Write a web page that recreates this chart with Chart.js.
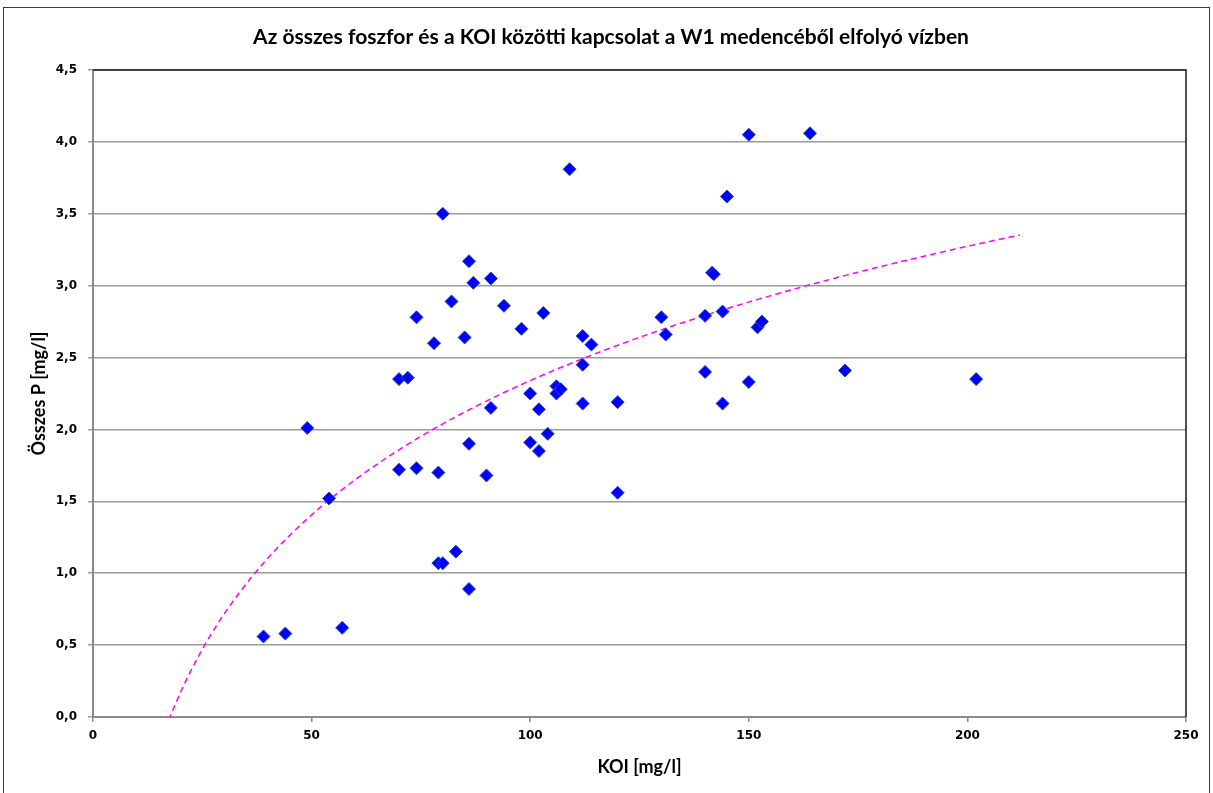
<!DOCTYPE html>
<html>
<head>
<meta charset="utf-8">
<script src="https://cdn.jsdelivr.net/npm/chart.js@4.4.1/dist/chart.umd.min.js"></script>
<style>
  html, body { margin: 0; padding: 0; background: #ffffff; }
  #wrap { width: 1213px; height: 793px; position: relative; }
</style>
</head>
<body>
<div id="wrap"><canvas id="chart" width="1213" height="793"></canvas></div>
<script>
// KOI (mg/l) and total phosphorus (mg/l) for each sample of the W1 basin outflow
const koi = [
  39, 44, 57, 49, 54, 70, 72, 70, 74, 74,
  78, 80, 82, 79, 79, 80, 83, 85, 86, 87,
  86, 86, 90, 91, 91, 94, 98, 100, 100, 102,
  102, 103, 104, 106, 106, 107, 109, 112, 112, 112,
  114, 120, 120, 130, 131, 140, 140, 141.6, 142, 144,
  144, 145, 150, 150, 152, 153, 164, 172, 202
];
const osszesP = [
  0.56, 0.58, 0.62, 2.01, 1.52, 2.35, 2.36, 1.72, 1.73, 2.78,
  2.60, 3.50, 2.89, 1.70, 1.07, 1.07, 1.15, 2.64, 3.17, 3.02,
  1.90, 0.89, 1.68, 3.05, 2.15, 2.86, 2.70, 2.25, 1.91, 2.14,
  1.85, 2.81, 1.97, 2.30, 2.25, 2.28, 3.81, 2.65, 2.45, 2.18,
  2.59, 2.19, 1.56, 2.78, 2.66, 2.79, 2.40, 3.09, 3.08, 2.82,
  2.18, 3.62, 4.05, 2.33, 2.71, 2.75, 4.06, 2.41, 2.35
];

const xTickLabels = ['0', '50', '100', '150', '200', '250'];
const yTickLabels = ['0,0', '0,5', '1,0', '1,5', '2,0', '2,5', '3,0', '3,5', '4,0', '4,5'];

const chartTitle = 'Az összes foszfor és a KOI közötti kapcsolat a W1 medencéből elfolyó vízben';
const xTitle = 'KOI [mg/l]';
const yTitle = 'Összes P [mg/l]';

// logarithmic trend line range (KOI)
const trendFrom = 15;
const trendTo = 212;

// least-squares fit of P = a*ln(KOI) + b
function logFit(xs, ys) {
  const n = xs.length;
  let sl = 0, sy = 0, sll = 0, sly = 0;
  for (let i = 0; i < n; i++) {
    const l = Math.log(xs[i]);
    sl += l; sy += ys[i]; sll += l * l; sly += l * ys[i];
  }
  const a = (n * sly - sl * sy) / (n * sll - sl * sl);
  const b = (sy - a * sl) / n;
  return { a, b };
}
const fit = logFit(koi, osszesP);
const trendPoints = [];
for (let i = 0; i <= 200; i++) {
  const x = trendFrom + (trendTo - trendFrom) * i / 200;
  trendPoints.push({ x, y: fit.a * Math.log(x) + fit.b });
}

const points = koi.map((x, i) => ({ x, y: osszesP[i] }));

const TICK_FONT = { family: 'DejaVu Sans', size: 12, weight: 'bold' };
const TITLE_FONT = 'Lato';

const framePlugin = {
  id: 'frame',
  beforeDraw(chart) {
    const ctx = chart.ctx;
    ctx.save();
    ctx.fillStyle = '#ffffff';
    ctx.fillRect(0, 0, chart.width, chart.height);
    ctx.strokeStyle = '#3a3a3a';
    ctx.lineWidth = 1;
    ctx.strokeRect(3.5, 7.5, 1206, 820);
    ctx.fillStyle = '#000000';
    ctx.font = 'bold 21px ' + TITLE_FONT;
    ctx.textAlign = 'center';
    ctx.textBaseline = 'middle';
    ctx.fillText(chartTitle, 611, 37);
    ctx.restore();
  },
  beforeDatasetsDraw(chart) {
    const { ctx, chartArea: a } = chart;
    ctx.save();
    ctx.strokeStyle = '#1a1a1a';
    ctx.lineWidth = 1.5;
    ctx.beginPath();
    ctx.moveTo(a.left, a.top);
    ctx.lineTo(a.right, a.top);
    ctx.lineTo(a.right, a.bottom);
    ctx.stroke();
    ctx.restore();
  }
};

new Chart(document.getElementById('chart'), {
  type: 'scatter',
  data: {
    datasets: [
      {
        label: 'Összes P',
        data: points,
        pointStyle: 'rectRot',
        pointRadius: 6.5,
        pointHoverRadius: 6.5,
        backgroundColor: '#0000ff',
        borderColor: '#2a4bb0',
        borderWidth: 1,
        order: 1
      },
      {
        type: 'line',
        label: 'Log. trend',
        data: trendPoints,
        borderColor: '#ff00ff',
        borderWidth: 1.5,
        borderDash: [6, 4],
        pointRadius: 0,
        fill: false,
        tension: 0,
        order: 2
      }
    ]
  },
  options: {
    responsive: false,
    animation: false,
    devicePixelRatio: 1,
    layout: { padding: { left: 0, top: 70, right: 27, bottom: 0 } },
    plugins: {
      legend: { display: false },
      title: { display: false },
      tooltip: { enabled: false }
    },
    scales: {
      x: {
        type: 'linear',
        min: 0,
        max: 250,
        afterFit(scale) { scale.height = 76; },
        afterBuildTicks(scale) {
          scale.ticks = xTickLabels.map((t, i) => ({ value: i * 50 }));
        },
        ticks: {
          color: '#000000',
          font: TICK_FONT,
          padding: 7,
          maxRotation: 0,
          callback: (v, i) => xTickLabels[i]
        },
        grid: { drawOnChartArea: false, drawTicks: true, tickLength: 5, color: '#8a8a8a', lineWidth: 1.5 },
        border: { display: true, color: '#8a8a8a', width: 2 },
        title: {
          display: true,
          text: xTitle,
          color: '#000000',
          font: { family: TITLE_FONT, size: 18, weight: 'bold' },
          padding: { top: 0, bottom: 15 }
        }
      },
      y: {
        type: 'linear',
        min: 0,
        max: 4.5,
        afterFit(scale) { scale.width = 93; },
        afterBuildTicks(scale) {
          scale.ticks = yTickLabels.map((t, i) => ({ value: i * 0.5 }));
        },
        ticks: {
          color: '#000000',
          font: TICK_FONT,
          padding: 11,
          callback: (v, i) => yTickLabels[i]
        },
        grid: { drawOnChartArea: true, drawTicks: true, tickLength: 5, color: '#9b9b9b', lineWidth: 1.5 },
        border: { display: true, color: '#8a8a8a', width: 2 },
        title: {
          display: true,
          text: yTitle,
          color: '#000000',
          font: { family: TITLE_FONT, size: 18, weight: 'bold' },
          padding: { top: 28, bottom: 0 }
        }
      }
    }
  },
  plugins: [framePlugin]
});
</script>
</body>
</html>
